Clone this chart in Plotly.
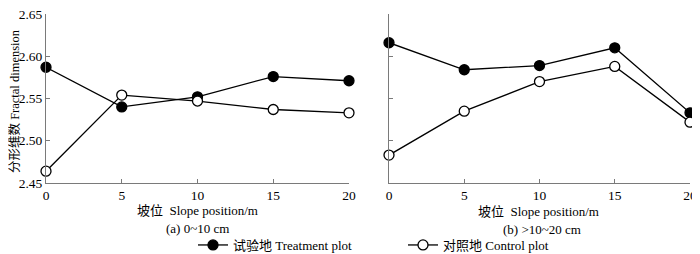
import plotly.graph_objects as go

positions = [0, 5, 10, 15, 20]
treat_a = [2.587, 2.540, 2.552, 2.576, 2.571]
control_a = [2.464, 2.554, 2.547, 2.537, 2.533]
treat_b = [2.616, 2.584, 2.589, 2.610, 2.533]
control_b = [2.483, 2.535, 2.570, 2.588, 2.522]
y_ticks = [2.45, 2.50, 2.55, 2.60, 2.65]
y_tick_labels = ["2.45", "2.50", "2.55", "2.60", "2.65"]
x_ticks = [0, 5, 10, 15, 20]

FONT = "Liberation Serif, Times New Roman, Noto Sans CJK SC, serif"
OFF = 8  # page body margin
W, H = 700 - OFF, 254 - OFF

def px(x):
    return (x - OFF) / W

def py(y):
    return 1 - (y - OFF) / H

fig = go.Figure()

def add(xa, ya, y, name, filled, show):
    fig.add_trace(go.Scatter(
        x=positions, y=y, xaxis=xa, yaxis=ya, name=name, showlegend=show,
        mode="lines+markers", cliponaxis=False,
        line=dict(color="black", width=1.3),
        marker=dict(size=10, symbol="circle",
                    color="black" if filled else "white",
                    line=dict(color="black", width=1.3)),
    ))

add("x", "y", treat_a, "试验地 Treatment plot", True, True)
add("x", "y", control_a, "对照地 Control plot", False, True)
add("x2", "y2", treat_b, "试验地 Treatment plot", True, False)
add("x2", "y2", control_b, "对照地 Control plot", False, False)

ydom = [py(183), py(14)]
axis_common = dict(
    showgrid=False, zeroline=False, showline=True, linecolor="#7a7a7a", linewidth=1,
    ticks="inside", ticklen=4, tickcolor="#7a7a7a", automargin=False,
    ticklabeloverflow="allow",
    tickfont=dict(family=FONT, size=13.5, color="black"),
)

def note(text, x, y, angle=0, size=13):
    return dict(text=text, x=px(x), y=py(y), xref="paper", yref="paper",
                xanchor="center", yanchor="middle", textangle=angle,
                showarrow=False, font=dict(family=FONT, size=size, color="black"))

fig.update_layout(
    width=W, height=H,
    margin=dict(l=0, r=0, t=0, b=0, autoexpand=False),
    paper_bgcolor="white", plot_bgcolor="white",
    font=dict(family=FONT, size=13, color="black"),
    xaxis=dict(domain=[px(46), px(349)], range=[0, 20], tickvals=x_ticks,
               anchor="y", ticklabelstandoff=0, **axis_common),
    yaxis=dict(domain=ydom, range=[2.45, 2.65], tickvals=y_ticks, ticktext=y_tick_labels,
               anchor="x", ticklabelstandoff=0, **axis_common),
    xaxis2=dict(domain=[px(389), px(690)], range=[0, 20], tickvals=x_ticks,
                anchor="y2", ticklabelstandoff=0, **axis_common),
    yaxis2=dict(domain=ydom, range=[2.45, 2.65], tickvals=y_ticks, showticklabels=False,
                anchor="x2", **axis_common),
    legend=dict(orientation="h", x=px(193), xanchor="left", y=py(245), yanchor="middle",
                font=dict(family=FONT, size=13, color="black"),
                bgcolor="rgba(0,0,0,0)", entrywidth=165, entrywidthmode="pixels",
                itemclick=False, tracegroupgap=0, itemwidth=30),
    annotations=[
        note("坡位  Slope position/m", 197, 210),
        note("(a) 0~10 cm", 197, 228),
        note("坡位  Slope position/m", 538, 211),
        note("(b) >10~20 cm", 542, 229),
        note("分形维数 Fractal dimension", 14, 101, angle=-90, size=12.5),
    ],
)

fig.write_html("out.html")
